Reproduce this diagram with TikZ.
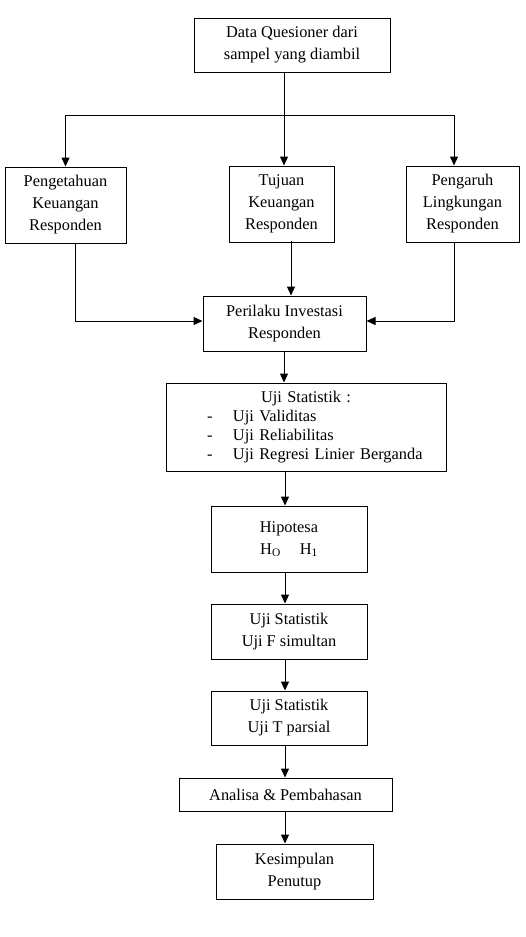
\documentclass[tikz,border=0pt]{standalone}
\usepackage{fontspec}
\setmainfont{Liberation Serif}
\usetikzlibrary{arrows.meta}

\begin{document}
\begin{tikzpicture}[x=1pt, y=-1pt, line width = 1pt,
				font = \fontsize{16.35pt}{22pt}\selectfont,
				kotak/.style = {rectangle, draw, fill = white, align = center,
				inner sep = 0pt},
				panah/.style = {-{Triangle[width=8pt,length=9pt]}}]

				\useasboundingbox (0,0) rectangle (525,937);

				\node [kotak, minimum width=196, minimum height=54] (data) at (292,45)
				{Data Quesioner dari\\sampel yang diambil};

				\node [kotak, minimum width=121, minimum height=76] (pengetahuan) at (65.5,205)
				{Pengetahuan\\Keuangan\\Responden};
				\node [kotak, minimum width=105, minimum height=76] (tujuan) at (281.5,204)
				{Tujuan\\Keuangan\\Responden};
				\node [kotak, minimum width=113, minimum height=76] (pengaruh) at (462.5,204)
				{Pengaruh\\Lingkungan\\Responden};

				\node [kotak, minimum width=163, minimum height=55] (perilaku) at (284.5,323.5)
				{Perilaku Investasi\\Responden};

				\node [kotak, minimum width=280, minimum height=88, text width=280,
				align=left, font=\fontsize{16.35pt}{19pt}\selectfont] (uji) at (306,427)
				{\makebox[\linewidth]{Uji Statistik :}\\
				\hspace*{41pt}\makebox[26pt][l]{-}Uji Validitas\\
				\hspace*{41pt}\makebox[26pt][l]{-}Uji Reliabilitas\\
				\hspace*{41pt}\makebox[26pt][l]{-}Uji Regresi Linier Berganda};

				\node [kotak, minimum width=156, minimum height=66] (hipotesa) at (289,539)
				{Hipotesa\\H\textsubscript{O}\hspace{19pt}H\textsubscript{1}};
				\node [kotak, minimum width=156, minimum height=55] (ujif) at (289,631.5)
				{Uji Statistik\\Uji F simultan};
				\node [kotak, minimum width=156, minimum height=54] (ujit) at (289,718)
				{Uji Statistik\\Uji T parsial};
				\node [kotak, minimum width=213, minimum height=33] (analisa) at (285.5,794.5)
				{Analisa \& Pembahasan};
				\node [kotak, minimum width=157, minimum height=55] (kesimpulan) at (294.5,871.5)
				{Kesimpulan\\Penutup};

				\coordinate (cabang) at (284,115);
				\coordinate (sumbu) at (285,0);

				\draw [panah] (data.south -| cabang) -- (tujuan.north -| cabang);
				\draw [panah] (cabang) -| (pengetahuan.north);
				\draw [panah] (cabang) -| ([xshift=-8.5pt]pengaruh.north);

				\draw [panah] ([xshift=9.5pt]pengetahuan.south) |- ([yshift=2.5pt]perilaku.west);
				\draw [panah] ([xshift=9.5pt,yshift=2pt]tujuan.south) -- ([xshift=9.5pt]tujuan.south |- perilaku.north);
				\draw [panah] ([xshift=-8.5pt]pengaruh.south) |- ([yshift=2.5pt]perilaku.east);

				\draw [panah] (perilaku.south -| cabang) -- (uji.north -| cabang);
				\draw [panah] (uji.south -| sumbu) -- (hipotesa.north -| sumbu);
				\draw [panah] (hipotesa.south -| sumbu) -- (ujif.north -| sumbu);
				\draw [panah] (ujif.south -| sumbu) -- (ujit.north -| sumbu);
				\draw [panah] (ujit.south -| sumbu) -- (analisa.north -| sumbu);
				\draw [panah] (analisa.south -| sumbu) -- (kesimpulan.north -| sumbu);
			\end{tikzpicture}
\end{document}
